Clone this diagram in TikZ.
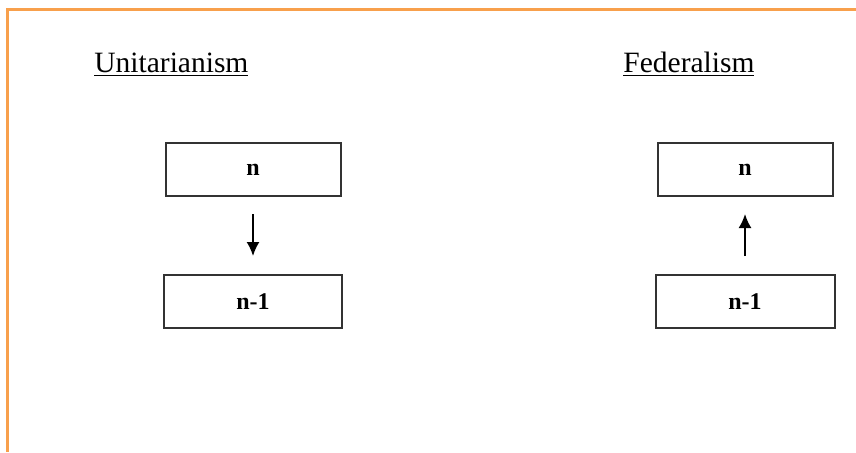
\documentclass[tikz,border=0pt]{standalone}
\usepackage{fontspec}
\setmainfont{Liberation Serif}
\usepackage{tikz}
\usetikzlibrary{arrows.meta}
\definecolor{frameorange}{HTML}{F8A04C}
\definecolor{boxline}{HTML}{333333}

\begin{document}
\begin{tikzpicture}[x=0.5pt,y=-0.5pt,
    level/.style={draw=boxline,line width=1pt,minimum height=26.5pt,font=\fontsize{12}{14}\selectfont\bfseries,inner sep=0pt},
    heading/.style={anchor=base west,inner sep=0pt,font=\fontsize{14.75}{17}\selectfont},
    flow/.style={line width=0.9pt,-{Latex[length=7pt,width=6.5pt]}}]
          \useasboundingbox (0,0) rectangle (856,452);
          \draw[frameorange,line width=1.5pt] (856,9.5) -- (7,9.5) -- (7,452);
          \node[heading] (uhead) at (94,72) {\underline{Unitarianism}};
          \node[heading] (fhead) at (623,72) {\underline{Federalism}};
          \node[level,minimum width=87.5pt] (un) at (253,169.5) {n};
          \node[level,minimum width=89pt] (un1) at (253,301.5) {n-1};
          \node[level,minimum width=87.5pt] (fn) at (745,169.5) {n};
          \node[level,minimum width=89.5pt] (fn1) at (745,301.5) {n-1};
          \draw[flow,shorten <=8.5pt,shorten >=9pt] (un) -- (un1);
          \draw[flow,shorten <=9pt,shorten >=8.5pt] (fn1) -- (fn);
        \end{tikzpicture}
\end{document}
